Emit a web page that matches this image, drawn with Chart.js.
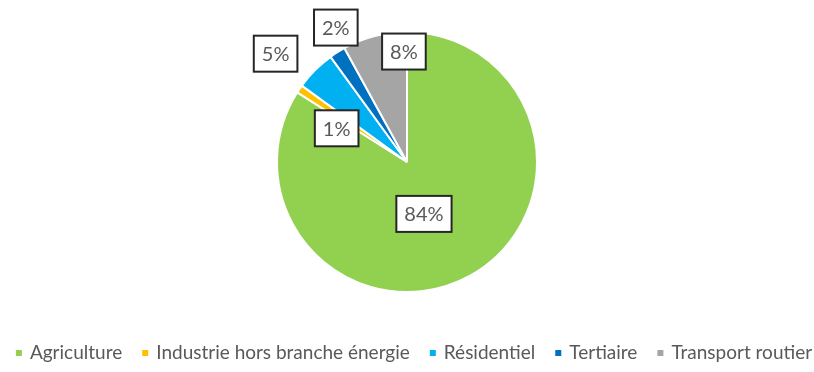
<!DOCTYPE html>
<html lang="fr">
<head>
<meta charset="utf-8">
<title>Répartition par secteur</title>
<script src="https://cdn.jsdelivr.net/npm/chart.js@4/dist/chart.umd.min.js"></script>
<style>
  html, body { margin: 0; padding: 0; background: #ffffff; }
  #wrap { width: 814px; height: 372px; position: relative; }
</style>
</head>
<body>
<div id="wrap"><canvas id="chart"></canvas></div>
<script>
// Secteurs et parts (%)
const sectors = ['Agriculture', 'Industrie hors branche énergie', 'Résidentiel', 'Tertiaire', 'Transport routier'];
const shares = [84, 1, 5, 2, 8];
const sectorColors = ['#92D050', '#FFC000', '#00B0F0', '#0070C0', '#A5A5A5'];

// Placement des étiquettes : distance relative au rayon et décalage angulaire (degrés)
const labelRadius = [0.42, 0.6, 1.31, 1.17, 0.85];
const labelAngleShift = [10.7, -8.6, -5.5, 4.5, 12.8];

// Étiquettes encadrées des pourcentages
const boxedLabels = {
  id: 'boxedLabels',
  afterDatasetsDraw(chart) {
    const { ctx } = chart;
    const meta = chart.getDatasetMeta(0);
    ctx.save();
    ctx.font = '20px Lato';
    ctx.textAlign = 'center';
    ctx.textBaseline = 'middle';
    meta.data.forEach((arc, i) => {
      const p = arc.getProps(['x', 'y', 'startAngle', 'endAngle', 'outerRadius'], true);
      const mid = (p.startAngle + p.endAngle) / 2 + labelAngleShift[i] * Math.PI / 180;
      const r = p.outerRadius * labelRadius[i];
      const cx = p.x + Math.cos(mid) * r;
      const cy = p.y + Math.sin(mid) * r;
      const text = shares[i] + '%';
      const w = ctx.measureText(text).width + 16;
      const h = 36;
      ctx.fillStyle = '#ffffff';
      ctx.fillRect(cx - w / 2, cy - h / 2, w, h);
      ctx.lineWidth = 2;
      ctx.strokeStyle = '#262626';
      ctx.strokeRect(cx - w / 2, cy - h / 2, w, h);
      ctx.fillStyle = '#595959';
      ctx.fillText(text, cx, cy + 1);
    });
    ctx.restore();
  }
};

// Légende sur une seule ligne sous le graphique
const lineLegend = {
  id: 'lineLegend',
  afterDraw(chart) {
    const { ctx, width, height } = chart;
    const items = chart.data.labels;
    const colors = chart.data.datasets[0].backgroundColor;
    const box = 6, gapText = 8, gapItem = 20;
    ctx.save();
    ctx.font = '19px Lato';
    ctx.textBaseline = 'middle';
    ctx.textAlign = 'left';
    const widths = items.map(t => ctx.measureText(t).width);
    const total = widths.reduce((a, w) => a + box + gapText + w, 0) + gapItem * (items.length - 1);
    let x = width / 2 + 7 - total / 2;
    const y = height - 19;
    items.forEach((t, i) => {
      ctx.fillStyle = colors[i];
      ctx.fillRect(x, y - box / 2, box, box);
      x += box + gapText;
      ctx.fillStyle = '#595959';
      ctx.fillText(t, x, y);
      x += widths[i] + gapItem;
    });
    ctx.restore();
  }
};

new Chart(document.getElementById('chart'), {
  type: 'pie',
  data: {
    labels: sectors,
    datasets: [{
      data: shares,
      backgroundColor: sectorColors,
      borderColor: '#ffffff',
      borderWidth: 2
    }]
  },
  options: {
    responsive: true,
    maintainAspectRatio: false,
    animation: false,
    radius: 130,
    layout: { padding: { top: 0, bottom: 48 } },
    plugins: {
      tooltip: { enabled: false },
      legend: { display: false }
    }
  },
  plugins: [boxedLabels, lineLegend]
});
</script>
</body>
</html>
